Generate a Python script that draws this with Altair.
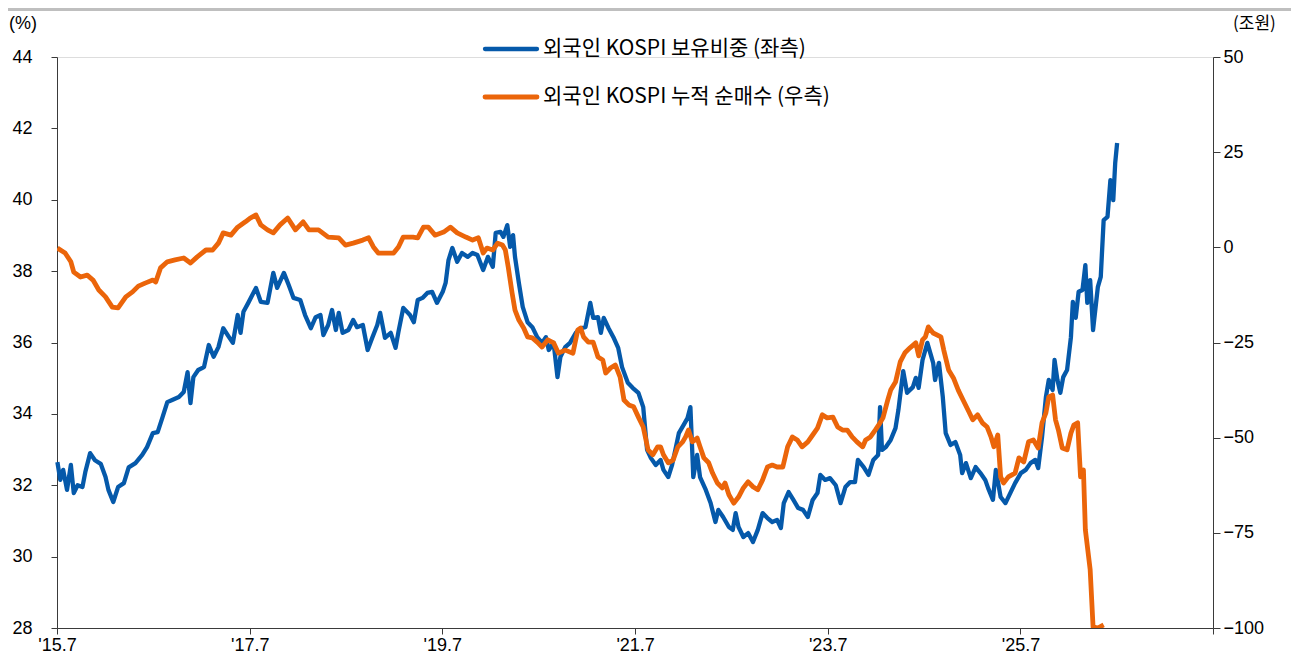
import altair as alt
import pandas as pd

# ---------------- data ----------------
# decimal year -> foreign ownership share of KOSPI (%) , left axis
blue_year = [2015.50, 2015.53, 2015.56, 2015.60, 2015.64, 2015.67, 2015.71, 2015.76, 2015.79, 2015.84,
             2015.89, 2015.95, 2016.00, 2016.03, 2016.08, 2016.13, 2016.19, 2016.24, 2016.31, 2016.38,
             2016.43, 2016.49, 2016.54, 2016.59, 2016.64, 2016.69, 2016.76, 2016.81, 2016.85, 2016.88,
             2016.91, 2016.96, 2017.02, 2017.07, 2017.12, 2017.17, 2017.22, 2017.28, 2017.32, 2017.37,
             2017.40, 2017.43, 2017.48, 2017.56, 2017.61, 2017.68, 2017.74, 2017.78, 2017.85, 2017.90,
             2017.95, 2018.02, 2018.07, 2018.13, 2018.18, 2018.23, 2018.26, 2018.31, 2018.35, 2018.39,
             2018.42, 2018.46, 2018.52, 2018.57, 2018.61, 2018.67, 2018.72, 2018.77, 2018.82, 2018.85,
             2018.90, 2018.96, 2019.01, 2019.04, 2019.09, 2019.16, 2019.20, 2019.24, 2019.29, 2019.34,
             2019.39, 2019.44, 2019.50, 2019.53, 2019.56, 2019.60, 2019.65, 2019.70, 2019.76, 2019.81,
             2019.86, 2019.92, 2019.97, 2020.02, 2020.05, 2020.10, 2020.13, 2020.17, 2020.20, 2020.23,
             2020.25, 2020.29, 2020.33, 2020.38, 2020.43, 2020.48, 2020.53, 2020.57, 2020.60, 2020.65,
             2020.69, 2020.72, 2020.77, 2020.82, 2020.88, 2020.93, 2020.98, 2021.03, 2021.06, 2021.11,
             2021.14, 2021.17, 2021.22, 2021.27, 2021.32, 2021.36, 2021.42, 2021.47, 2021.53, 2021.58,
             2021.62, 2021.66, 2021.71, 2021.76, 2021.79, 2021.84, 2021.88, 2021.92, 2021.95, 2022.00,
             2022.04, 2022.07, 2022.09, 2022.10, 2022.14, 2022.17, 2022.23, 2022.28, 2022.33, 2022.36,
             2022.41, 2022.47, 2022.51, 2022.54, 2022.57, 2022.62, 2022.67, 2022.72, 2022.77, 2022.82,
             2022.87, 2022.92, 2022.97, 2023.01, 2023.04, 2023.09, 2023.14, 2023.19, 2023.24, 2023.29,
             2023.34, 2023.39, 2023.42, 2023.47, 2023.52, 2023.58, 2023.63, 2023.68, 2023.73, 2023.78,
             2023.81, 2023.87, 2023.92, 2023.97, 2024.02, 2024.04, 2024.06, 2024.10, 2024.15, 2024.20,
             2024.23, 2024.28, 2024.32, 2024.38, 2024.41, 2024.44, 2024.48, 2024.53, 2024.56, 2024.59,
             2024.61, 2024.65, 2024.69, 2024.72, 2024.77, 2024.82, 2024.87, 2024.89, 2024.93, 2024.98,
             2025.03, 2025.08, 2025.13, 2025.16, 2025.21, 2025.24, 2025.29, 2025.34, 2025.39, 2025.44,
             2025.50, 2025.55, 2025.60, 2025.65, 2025.68, 2025.72, 2025.76, 2025.79, 2025.83, 2025.85,
             2025.88, 2025.91, 2025.94, 2025.98, 2026.02, 2026.04, 2026.07, 2026.10, 2026.14, 2026.17,
             2026.19, 2026.22, 2026.25, 2026.30, 2026.33, 2026.36, 2026.40, 2026.43, 2026.46, 2026.48,
             2026.50]
blue_pct = [32.65, 32.15, 32.43, 31.87, 32.57, 31.78, 32.00, 31.95, 32.37, 32.90,
            32.70, 32.60, 32.23, 31.87, 31.53, 31.95, 32.06, 32.50, 32.62, 32.85,
            33.07, 33.46, 33.49, 33.90, 34.33, 34.39, 34.47, 34.61, 35.17, 34.30,
            35.03, 35.23, 35.31, 35.93, 35.60, 35.87, 36.40, 36.15, 35.99, 36.77,
            36.27, 36.86, 37.11, 37.53, 37.14, 37.11, 37.95, 37.53, 37.95, 37.61,
            37.25, 37.19, 36.77, 36.40, 36.71, 36.77, 36.21, 36.49, 36.91, 36.35,
            36.83, 36.27, 36.35, 36.63, 36.43, 36.49, 35.79, 36.15, 36.49, 36.83,
            36.13, 36.27, 35.85, 36.30, 36.97, 36.77, 36.57, 37.19, 37.25, 37.39,
            37.42, 37.11, 37.42, 37.67, 38.31, 38.65, 38.26, 38.51, 38.40, 38.51,
            38.45, 38.03, 38.40, 38.12, 39.07, 39.10, 38.96, 39.29, 38.68, 39.01,
            38.40, 37.67, 37.00, 36.57, 36.43, 36.15, 35.99, 36.15, 35.79, 35.99,
            35.03, 35.59, 35.87, 35.99, 36.27, 36.40, 36.43, 37.11, 36.69, 36.71,
            36.27, 36.69, 36.40, 36.15, 35.85, 35.31, 34.87, 34.73, 34.59, 34.19,
            32.99, 32.76, 32.57, 32.71, 32.43, 32.23, 32.57, 33.07, 33.46, 33.69,
            33.88, 34.19, 32.90, 32.23, 32.85, 32.23, 31.87, 31.50, 30.97, 31.31,
            31.11, 30.83, 30.75, 31.22, 30.83, 30.55, 30.66, 30.41, 30.75, 31.22,
            31.08, 30.97, 31.03, 30.80, 31.50, 31.81, 31.59, 31.36, 31.31, 31.11,
            31.59, 31.78, 32.29, 32.15, 32.20, 32.00, 31.50, 31.95, 32.09, 32.09,
            32.71, 32.51, 32.29, 32.71, 32.85, 34.19, 32.99, 33.07, 33.27, 33.60,
            34.11, 35.20, 34.59, 34.75, 35.01, 34.73, 35.51, 35.99, 35.71, 35.43,
            34.95, 35.43, 34.47, 33.46, 33.13, 33.21, 32.85, 32.34, 32.62, 32.20,
            32.51, 32.34, 32.15, 31.92, 31.59, 32.43, 31.67, 31.50, 31.78, 32.06,
            32.34, 32.43, 32.62, 32.71, 32.48, 33.35, 34.47, 34.95, 34.67, 35.51,
            34.95, 34.59, 35.03, 35.23, 36.15, 37.14, 36.69, 37.42, 37.47, 38.17,
            37.11, 37.75, 36.35, 37.56, 37.84, 39.43, 39.52, 40.55, 39.99, 41.03,
            41.59]

# decimal year -> cumulative foreign net buying of KOSPI (trillion KRW), right axis
orange_year = [2015.50, 2015.58, 2015.64, 2015.67, 2015.74, 2015.81, 2015.87, 2015.93, 2016.00, 2016.07,
               2016.13, 2016.21, 2016.28, 2016.34, 2016.41, 2016.49, 2016.52, 2016.57, 2016.64, 2016.72,
               2016.81, 2016.88, 2016.95, 2017.04, 2017.11, 2017.17, 2017.22, 2017.30, 2017.37, 2017.45,
               2017.50, 2017.56, 2017.61, 2017.68, 2017.74, 2017.81, 2017.89, 2017.97, 2018.05, 2018.11,
               2018.21, 2018.31, 2018.42, 2018.49, 2018.57, 2018.67, 2018.73, 2018.78, 2018.83, 2018.90,
               2018.99, 2019.04, 2019.09, 2019.19, 2019.24, 2019.30, 2019.35, 2019.42, 2019.51, 2019.58,
               2019.65, 2019.74, 2019.81, 2019.87, 2019.92, 2019.96, 2020.02, 2020.07, 2020.12, 2020.15,
               2020.18, 2020.22, 2020.25, 2020.29, 2020.34, 2020.38, 2020.43, 2020.48, 2020.53, 2020.59,
               2020.65, 2020.70, 2020.77, 2020.85, 2020.90, 2020.93, 2020.96, 2021.01, 2021.06, 2021.11,
               2021.16, 2021.19, 2021.24, 2021.29, 2021.34, 2021.38, 2021.43, 2021.48, 2021.53, 2021.58,
               2021.63, 2021.68, 2021.73, 2021.76, 2021.79, 2021.84, 2021.89, 2021.94, 2021.99, 2022.02,
               2022.05, 2022.09, 2022.14, 2022.17, 2022.21, 2022.26, 2022.30, 2022.35, 2022.40, 2022.43,
               2022.47, 2022.52, 2022.57, 2022.62, 2022.67, 2022.72, 2022.77, 2022.82, 2022.87, 2022.92,
               2022.97, 2023.03, 2023.08, 2023.13, 2023.18, 2023.23, 2023.29, 2023.34, 2023.39, 2023.44,
               2023.49, 2023.55, 2023.60, 2023.65, 2023.70, 2023.75, 2023.80, 2023.86, 2023.89, 2023.94,
               2023.99, 2024.04, 2024.07, 2024.12, 2024.15, 2024.20, 2024.25, 2024.30, 2024.35, 2024.41,
               2024.44, 2024.48, 2024.51, 2024.54, 2024.59, 2024.67, 2024.70, 2024.75, 2024.80, 2024.85,
               2024.90, 2024.96, 2025.00, 2025.05, 2025.10, 2025.15, 2025.19, 2025.22, 2025.26, 2025.29,
               2025.32, 2025.37, 2025.44, 2025.48, 2025.53, 2025.58, 2025.63, 2025.68, 2025.72, 2025.76,
               2025.79, 2025.83, 2025.86, 2025.89, 2025.93, 2025.98, 2026.02, 2026.05, 2026.09, 2026.12,
               2026.15, 2026.17, 2026.22, 2026.25, 2026.30, 2026.36]
orange_trn = [-0.2, -1.5, -3.8, -6.5, -7.8, -7.3, -8.6, -11.2, -13.0, -15.7,
              -15.9, -13.0, -11.7, -10.2, -9.4, -8.6, -9.1, -5.4, -3.8, -3.3,
              -2.8, -4.1, -2.5, -0.7, -0.7, 1.1, 3.8, 3.2, 5.3, 6.7,
              7.7, 8.5, 5.9, 4.6, 3.8, 5.9, 7.7, 4.6, 6.7, 4.6,
              4.6, 2.7, 2.5, 0.6, 1.1, 1.9, 2.5, 0.1, -1.5, -1.5,
              -1.5, 0.1, 2.7, 2.7, 2.5, 5.3, 5.3, 3.2, 4.0, 5.3,
              3.8, 2.7, 1.9, 2.5, -1.5, -0.2, -0.7, 1.1, 0.6, -0.7,
              -5.2, -12.0, -16.5, -19.1, -21.2, -23.5, -23.8, -24.9, -26.2, -24.3,
              -25.1, -27.8, -27.0, -27.8, -21.7, -21.2, -23.5, -24.9, -24.9, -28.8,
              -29.6, -33.0, -31.7, -30.9, -34.1, -40.1, -41.4, -41.9, -44.6, -47.2,
              -53.2, -54.5, -52.4, -52.4, -54.5, -56.6, -55.9, -52.4, -51.1, -49.8,
              -48.0, -51.1, -50.1, -52.4, -55.3, -56.6, -59.3, -61.9, -63.2, -61.9,
              -65.0, -67.2, -65.6, -63.2, -61.6, -62.9, -63.7, -61.1, -57.7, -57.2,
              -57.7, -57.7, -52.4, -49.8, -50.6, -52.4, -51.1, -49.3, -47.5, -44.0,
              -44.8, -44.6, -47.2, -48.0, -48.0, -49.8, -51.1, -52.4, -50.6, -49.8,
              -48.0, -46.1, -44.8, -40.1, -37.5, -35.4, -30.0, -27.6, -26.4, -25.1,
              -28.5, -24.3, -23.5, -20.9, -22.5, -23.5, -27.0, -32.2, -34.3, -37.5,
              -40.1, -43.2, -45.3, -44.0, -46.1, -47.2, -49.8, -52.4, -49.3, -60.3,
              -61.9, -60.3, -59.3, -55.3, -56.4, -51.1, -50.6, -52.7, -46.1, -43.5,
              -39.3, -38.8, -45.3, -48.0, -52.7, -53.2, -48.8, -46.7, -46.1, -60.3,
              -58.5, -74.2, -84.7, -99.7, -100.0, -99.2]

left_ticks = [28, 30, 32, 34, 36, 38, 40, 42, 44]
right_ticks = [-100, -75, -50, -25, 0, 25, 50]
x_tick_years = [2015, 2017, 2019, 2021, 2023, 2025, 2027]   # July of each year

series_names = ["외국인 KOSPI 보유비중 (좌측)", "외국인 KOSPI 누적 순매수 (우측)"]
left_unit = "(%)"
right_unit = "(조원)"

BLUE = "#0559AA"
ORANGE = "#EB650A"
AXIS = "#3A3A3A"
LATIN = "Liberation Sans"
HANGUL = "Noto Sans CJK KR"


def dec_to_ts(y):
    yr = int(y)
    start = pd.Timestamp(yr, 1, 1)
    end = pd.Timestamp(yr + 1, 1, 1)
    return start + (end - start) * (y - yr)


blue_df = pd.DataFrame({"date": [dec_to_ts(v) for v in blue_year], "v": blue_pct})
orange_df = pd.DataFrame({"date": [dec_to_ts(v) for v in orange_year], "v": orange_trn})

W, H = 1156, 571
PAD = {"left": 49, "top": 49, "right": 78, "bottom": 27}

x_enc = alt.X(
    "date:T",
    scale=alt.Scale(domain=[alt.DateTime(year=2015, month=7, date=1),
                            alt.DateTime(year=2027, month=7, date=1)]),
    axis=alt.Axis(
        values=[alt.DateTime(year=y, month=7, date=1) for y in x_tick_years],
        format="'%y.%-m",
        labelExpr="year(datum.value) >= 2027 ? '' : datum.label",
        title=None, grid=False, tickSize=6, tickColor=AXIS, domainColor=AXIS,
        labelFlush=False, labelFont=LATIN, labelFontSize=18, labelColor="#000000",
        labelPadding=2, labelOverlap=False,
    ),
)

blue_line = alt.Chart(blue_df).mark_line(color=BLUE, strokeWidth=4.3, strokeJoin="round").encode(
    x=x_enc,
    y=alt.Y("v:Q", scale=alt.Scale(domain=[28, 44], nice=False, zero=False),
            axis=alt.Axis(values=left_ticks, orient="left", title=None, grid=False,
                          tickSize=6, tickColor=AXIS, domainColor=AXIS,
                          labelFont=LATIN, labelFontSize=18, labelColor="#000000",
                          labelPadding=19)),
)

orange_line = alt.Chart(orange_df).mark_line(color=ORANGE, strokeWidth=4.8, strokeJoin="round", clip=True).encode(
    x=x_enc,
    y=alt.Y("v:Q", scale=alt.Scale(domain=[-100, 50], nice=False, zero=False),
            axis=alt.Axis(values=right_ticks, orient="right", title=None, grid=False,
                          tickSize=7, tickColor=AXIS, domainColor=AXIS,
                          labelFont=LATIN, labelFontSize=18, labelColor="#000000",
                          labelAlign="left", labelPadding=3,
                          labelExpr="datum.value >= 0 ? '\u2007' + datum.label : datum.label")),
)

one = pd.DataFrame({"k": [0]})

top_bar = alt.Chart(one).mark_rule(color="#BFBFBF", strokeWidth=3).encode(
    x=alt.value(-49), x2=alt.value(W + PAD["right"]), y=alt.value(-47.5))

leg_blue = alt.Chart(one).mark_rule(color=BLUE, strokeWidth=4.3, strokeCap="round").encode(
    x=alt.value(428), x2=alt.value(480), y=alt.value(-8))
leg_orange = alt.Chart(one).mark_rule(color=ORANGE, strokeWidth=4.8, strokeCap="round").encode(
    x=alt.value(428), x2=alt.value(480), y=alt.value(40))

leg_text_blue = alt.Chart(pd.DataFrame({"t": [series_names[0]]})).mark_text(
    align="left", baseline="middle", font=HANGUL, fontSize=21, color="#000000"
).encode(x=alt.value(486), y=alt.value(-8), text="t:N")
leg_text_orange = alt.Chart(pd.DataFrame({"t": [series_names[1]]})).mark_text(
    align="left", baseline="middle", font=HANGUL, fontSize=21, color="#000000"
).encode(x=alt.value(486), y=alt.value(40), text="t:N")

unit_l = alt.Chart(pd.DataFrame({"t": [left_unit]})).mark_text(
    align="left", baseline="middle", font=LATIN, fontSize=18, color="#000000"
).encode(x=alt.value(-48), y=alt.value(-33), text="t:N")

unit_r = alt.Chart(pd.DataFrame({"t": [right_unit]})).mark_text(
    align="left", baseline="middle", font=HANGUL, fontSize=17, color="#000000"
).encode(x=alt.value(1176), y=alt.value(-33), text="t:N")

chart = alt.layer(
    blue_line, orange_line, top_bar, leg_blue, leg_orange,
    leg_text_blue, leg_text_orange, unit_l, unit_r
).resolve_scale(y="independent").properties(
    width=W, height=H,
    autosize=alt.AutoSizeParams(type="none"),
    padding=PAD,
).configure_view(strokeWidth=0).configure(background="white")

chart.save("out.html", embed_options={"renderer": "svg", "actions": False})
